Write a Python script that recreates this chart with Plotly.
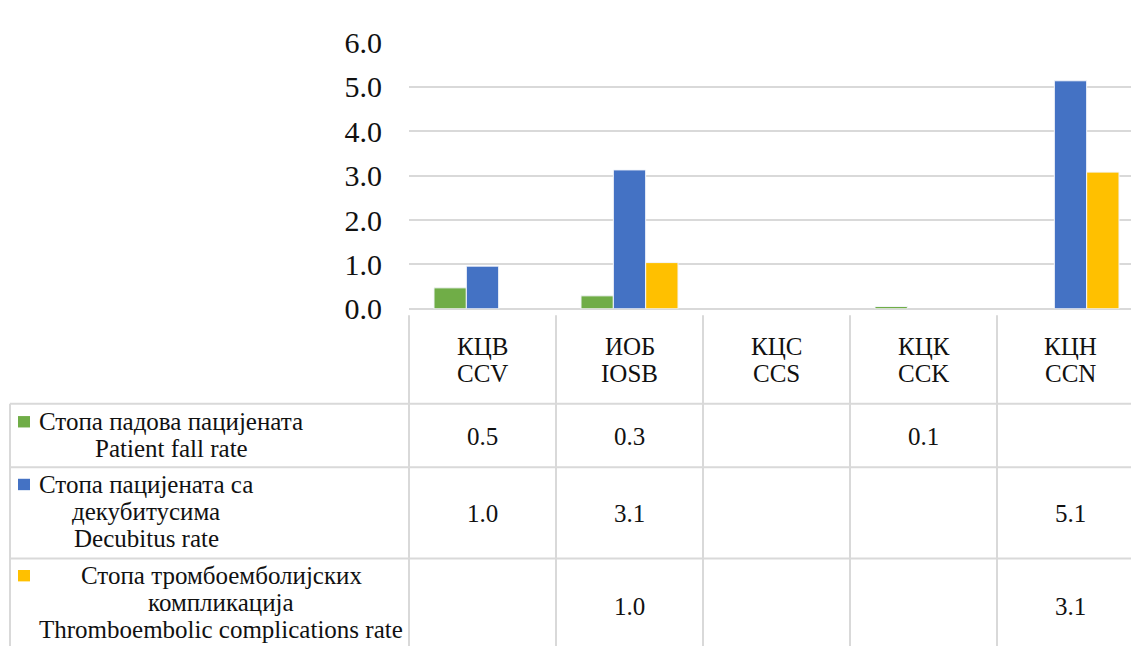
import plotly.graph_objects as go

# ---- data -------------------------------------------------------------
categories_cyr = ["КЦВ", "ИОБ", "КЦС", "КЦК", "КЦН"]
categories_lat = ["CCV", "IOSB", "CCS", "CCK", "CCN"]

fall_rate = [0.47, 0.29, None, 0.05, None]
decubitus_rate = [0.96, 3.13, None, None, 5.14]
thrombo_rate = [None, 1.04, None, None, 3.08]

series_labels = [
    ["Стопа падова пацијената", "Patient fall rate"],
    ["Стопа пацијената са", "декубитусима", "Decubitus rate"],
    ["Стопа тромбоемболијских", "компликација", "Thromboembolic complications rate"],
]
y_ticks = [0, 1, 2, 3, 4, 5, 6]

# ---- styling ----------------------------------------------------------
W, H = 1131, 662
FONT = "Liberation Serif"
TXT = "#111111"
GRID = "#d9d9d9"
colors = ["#70ad47", "#4472c4", "#ffc000"]
series_values = [fall_rate, decubitus_rate, thrombo_rate]

# plot area in pixels; the table below it lives in the rest of the page
PL, PR, PT, PB = 409, W, 27, 307
CAT_W = 147
x_range = [-0.5, -0.5 + (PR - PL) / CAT_W]
x_domain = [PL / W, PR / W]
y_domain = [1 - PB / H, 1 - PT / H]


def py(p):
    """pixel row -> paper y (whole page)"""
    return 1 - p / H


def px(p):
    """pixel column -> paper x (whole page)"""
    return p / W


def cx(v):
    """category coordinate -> paper x"""
    f = (v - x_range[0]) / (x_range[1] - x_range[0])
    return x_domain[0] + f * (x_domain[1] - x_domain[0])


fig = go.Figure()
for vals, col in zip(series_values, colors):
    idx = [i for i, v in enumerate(vals) if v is not None]
    fig.add_trace(go.Bar(
        x=idx, y=[vals[i] for i in idx],
        marker=dict(color=col, line=dict(color="#f4f6fb", width=1)),
        showlegend=False,
    ))

shapes = []
annotations = []

# table grid: horizontal rules
row_edges = [407, 474, 570]
for r in row_edges:
    shapes.append(dict(type="line", xref="paper", yref="paper",
                       x0=px(10), x1=1, y0=py(r), y1=py(r),
                       line=dict(color=GRID, width=2)))
# left border of the label column
shapes.append(dict(type="line", xref="paper", yref="paper",
                   x0=px(10), x1=px(10), y0=py(407), y1=0,
                   line=dict(color=GRID, width=2)))
# column separators at category boundaries
for k in range(len(categories_lat) + 1):
    xb = k - 0.5
    if xb > x_range[1]:
        continue
    shapes.append(dict(type="line", xref="paper", yref="paper",
                       x0=cx(xb), x1=cx(xb), y0=py(314), y1=0,
                       line=dict(color=GRID, width=2)))

# header row: category names
for i, (c1, c2) in enumerate(zip(categories_cyr, categories_lat)):
    for txt, yc in ((c1, 347), (c2, 375)):
        annotations.append(dict(x=cx(i), xref="paper", y=py(yc), yref="paper",
                                text=txt, showarrow=False, xanchor="center",
                                yanchor="middle",
                                font=dict(family=FONT, size=25, color=TXT)))

# series rows: legend key, label lines, values
row_first_line = [426, 492, 588]
row_label_cx = [171, 146, 221]
row_value_y = [442, 523, 620]
LINE_STEP = 28.5
for s, (vals, col) in enumerate(zip(series_values, colors)):
    y0 = row_first_line[s]
    shapes.append(dict(type="rect", xref="paper", yref="paper",
                       x0=px(18), x1=px(30), y0=py(y0 - 6), y1=py(y0 + 6),
                       fillcolor=col, line=dict(width=0)))
    for j, line in enumerate(series_labels[s]):
        annotations.append(dict(x=px(row_label_cx[s]), xref="paper",
                                y=py(y0 + j * LINE_STEP), yref="paper",
                                text=line, showarrow=False, xanchor="center",
                                yanchor="middle",
                                font=dict(family=FONT, size=25, color=TXT)))
    for i, v in enumerate(vals):
        if v is None:
            continue
        annotations.append(dict(x=cx(i), xref="paper", y=py(row_value_y[s]), yref="paper",
                                text=f"{v:.1f}", showarrow=False, xanchor="center",
                                yanchor="middle",
                                font=dict(family=FONT, size=25, color=TXT)))

fig.update_layout(
    width=W, height=H,
    margin=dict(l=0, r=0, t=0, b=0),
    paper_bgcolor="white", plot_bgcolor="white",
    font=dict(family=FONT, color=TXT),
    barmode="group", bargap=0.34, bargroupgap=0,
    shapes=shapes, annotations=annotations,
    showlegend=False,
)
fig.update_xaxes(domain=x_domain, range=x_range, showticklabels=False,
                 showgrid=False, zeroline=False, showline=False, ticks="")
fig.update_yaxes(domain=y_domain, range=[0, 6], tickvals=y_ticks,
                 ticktext=[f"{t:.1f}" for t in y_ticks],
                 showgrid=True, gridcolor=GRID, gridwidth=2,
                 zeroline=True, zerolinecolor=GRID, zerolinewidth=2,
                 showline=False, ticks="outside", ticklen=20, tickcolor="white",
                 tickfont=dict(family=FONT, size=30, color=TXT))

fig.write_html("out.html")
